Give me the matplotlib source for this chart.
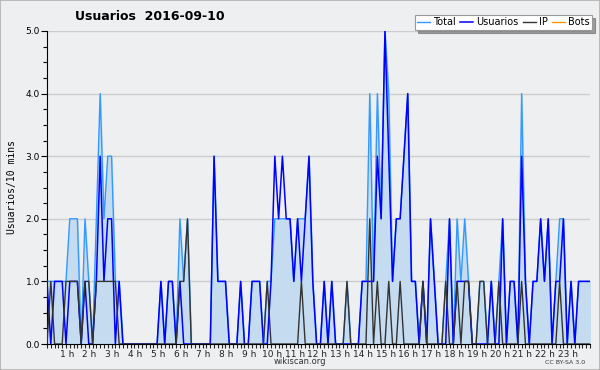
import numpy as np
import matplotlib
matplotlib.use("Agg")
from matplotlib import pyplot as plt
from matplotlib.ticker import MultipleLocator
from matplotlib.transforms import ScaledTranslation

# values per 10 minutes, 144 slots
total = [1, 1, 1, 1, 1, 1, 2, 2, 2, 0,
         2, 1, 0, 2, 4, 2, 3, 3, 1, 1,
         0, 0, 0, 0, 0, 0, 0, 0, 0, 0,
         1, 0, 1, 1, 0, 2, 1, 2, 0, 0,
         0, 0, 0, 0, 3, 1, 1, 1, 0, 0,
         0, 1, 0, 0, 1, 1, 1, 0, 1, 1,
         2, 2, 2, 2, 2, 1, 2, 2, 2, 3,
         1, 0, 0, 1, 0, 1, 0, 0, 0, 1,
         0, 0, 0, 1, 1, 4, 1, 4, 2, 5,
         4, 1, 2, 2, 3, 4, 1, 1, 0, 1,
         0, 2, 1, 0, 0, 1, 2, 0, 2, 1,
         2, 1, 0, 0, 1, 1, 0, 1, 0, 1,
         2, 0, 1, 1, 0, 4, 1, 0, 1, 1,
         2, 1, 2, 0, 1, 2, 2, 0, 1, 0,
         1, 1, 1, 1]
usuarios = [1, 0, 1, 1, 1, 0, 1, 1, 1, 0,
            1, 0, 0, 1, 3, 1, 2, 2, 0, 1,
            0, 0, 0, 0, 0, 0, 0, 0, 0, 0,
            1, 0, 1, 1, 0, 1, 0, 0, 0, 0,
            0, 0, 0, 0, 3, 1, 1, 1, 0, 0,
            0, 1, 0, 0, 1, 1, 1, 0, 0, 1,
            3, 2, 3, 2, 2, 1, 2, 1, 2, 3,
            1, 0, 0, 1, 0, 1, 0, 0, 0, 0,
            0, 0, 0, 1, 1, 1, 1, 3, 2, 5,
            3, 1, 2, 2, 3, 4, 1, 1, 0, 1,
            0, 2, 1, 0, 0, 0, 2, 0, 1, 1,
            1, 1, 0, 0, 0, 0, 0, 1, 0, 0,
            2, 0, 1, 1, 0, 3, 1, 0, 1, 1,
            2, 1, 2, 0, 1, 1, 2, 0, 1, 0,
            1, 1, 1, 1]
ip = [0, 1, 0, 0, 0, 1, 1, 1, 1, 0,
      1, 1, 0, 1, 1, 1, 1, 1, 1, 0,
      0, 0, 0, 0, 0, 0, 0, 0, 0, 0,
      0, 0, 0, 0, 0, 1, 1, 2, 0, 0,
      0, 0, 0, 0, 0, 0, 0, 0, 0, 0,
      0, 0, 0, 0, 0, 0, 0, 0, 1, 0,
      0, 0, 0, 0, 0, 0, 0, 1, 0, 0,
      0, 0, 0, 0, 0, 0, 0, 0, 0, 1,
      0, 0, 0, 0, 0, 2, 0, 1, 0, 0,
      1, 0, 0, 1, 0, 0, 0, 0, 0, 1,
      0, 0, 0, 0, 0, 1, 0, 0, 1, 0,
      1, 1, 0, 0, 1, 1, 0, 0, 0, 1,
      0, 0, 0, 0, 0, 1, 0, 0, 0, 0,
      0, 0, 0, 0, 0, 1, 0, 0, 0, 0,
      0, 0, 0, 0]
bots = [0] * 144
hour_labels = ["%d h" % h for h in range(1, 24)]

bg = "#eeeff0"
fig = plt.figure(figsize=(6, 3.7), dpi=100, facecolor=bg)
fig.patches.append(plt.Rectangle((0, 0), 1, 1, transform=fig.transFigure,
                                 fill=False, edgecolor="#b0b0b0", lw=1.2))
ax = fig.add_axes([47 / 600, 26 / 370, 543 / 600, 313 / 370])
ax.set_facecolor(bg)

x = np.arange(len(total))
ax.plot(x, bots, color="#ff9900", lw=1, zorder=1)
ax.fill_between(x, total, color="#c5dcf0", zorder=2)
ax.plot(x, total, color="#3399ff", lw=1, zorder=3, label="Total")
ax.plot(x, usuarios, color="#0000ff", lw=1.1, zorder=4, label="Usuarios")
ax.plot(x, ip, color="#333333", lw=1, zorder=5, label="IP")

ax.set_xlim(0, len(total) - 1)
ax.set_ylim(0, 5)
ax.yaxis.set_major_locator(MultipleLocator(1))
ax.yaxis.set_minor_locator(MultipleLocator(0.25))
ax.set_yticklabels(["%.1f" % v for v in ax.get_yticks()])
ax.grid(axis="y", which="major", color="#cccccc", lw=1, zorder=0)
ax.set_xticks(np.arange(6, 144, 6))
ax.set_xticklabels(hour_labels)
ax.set_xticks(x, minor=True)
ax.tick_params(axis="x", which="both", length=3, width=0.8, labelsize=6.5, pad=1,
               colors="#222222")
ax.tick_params(axis="y", which="major", length=4, width=0.8, labelsize=6.5, pad=1)
ax.tick_params(axis="y", which="minor", length=3, width=0.8)
# hour labels sit a little left of their tick
shift = ScaledTranslation(-3 / 100, 0, fig.dpi_scale_trans)
for lab in ax.get_xticklabels():
    lab.set_transform(lab.get_transform() + shift)
for s in ["top", "right"]:
    ax.spines[s].set_visible(False)
ax.spines["left"].set_color("#000000")
ax.spines["bottom"].set_color("#000000")

ax.set_ylabel("Usuarios/10 mins", fontsize=7, family="DejaVu Sans Mono", labelpad=6)
fig.text(150 / 600, 1 - 16 / 370, "Usuarios  2016-09-10", fontsize=9, fontweight="bold",
         ha="center", va="center")
fig.text(300 / 600, 1 - 362 / 370, "wikiscan.org", fontsize=6, ha="center", va="center",
         color="#333333")
fig.text(565 / 600, 1 - 363 / 370, "CC BY-SA 3.0", fontsize=4.5, ha="center", va="center",
         color="#333333")

h1, l1 = ax.get_legend_handles_labels()
h1.append(plt.Line2D([], [], color="#ff9900", lw=1))
l1.append("Bots")
leg = fig.legend(h1, l1, loc="upper right", bbox_to_anchor=(592 / 600, 1 - 15 / 370),
                 ncol=4, fontsize=7, frameon=True, fancybox=False, shadow=True,
                 handlelength=1.3, handletextpad=0.3, columnspacing=0.5,
                 borderpad=0.25, borderaxespad=0)
leg.get_frame().set_edgecolor("#999999")
leg.get_frame().set_facecolor("white")
leg.get_frame().set_linewidth(0.8)

plt.savefig("out.png", dpi=100, facecolor=bg)
